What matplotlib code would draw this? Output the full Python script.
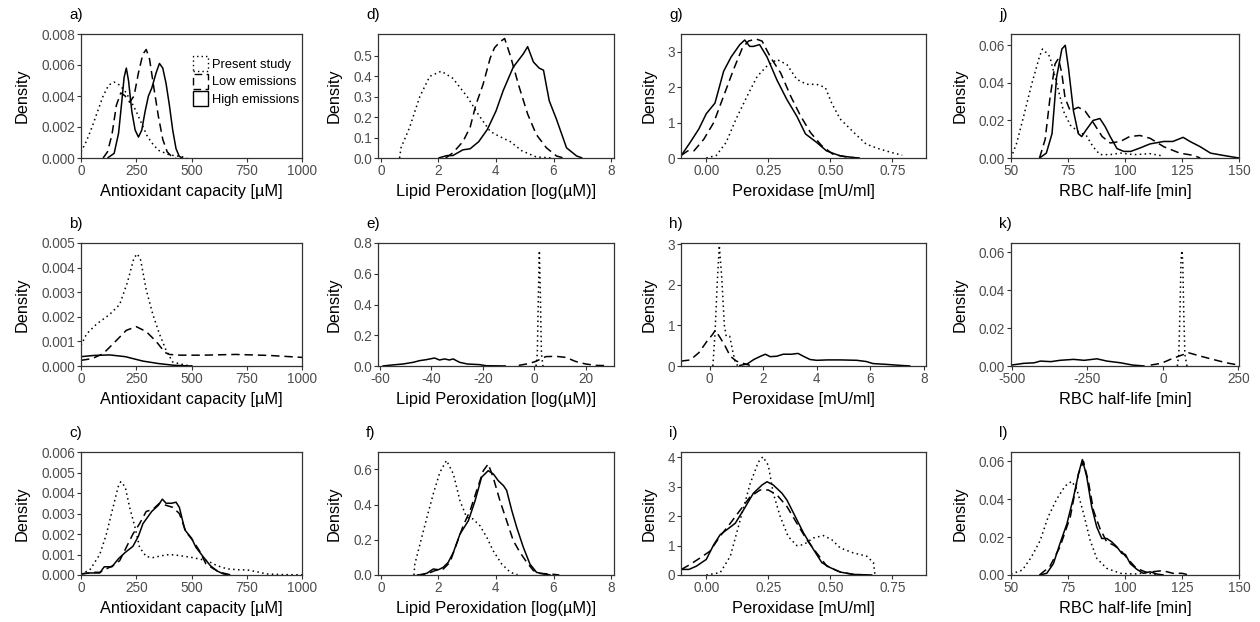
import matplotlib
matplotlib.use("Agg")
import matplotlib.pyplot as plt
from matplotlib.patches import Patch

plt.rcParams.update({
    "font.family": ["Liberation Sans", "DejaVu Sans"],
    "axes.unicode_minus": False,
})

# ---- data (density curves) ----
# a) antioxidant capacity, row 1
a_present_x = [0, 25, 50, 75, 100, 125, 150, 175, 200, 225, 250, 275, 300, 325, 350, 400, 450, 480]
a_present_y = [0.0004, 0.0011, 0.0020, 0.0030, 0.0040, 0.0047, 0.0049, 0.0047, 0.0043, 0.0037, 0.0030,
               0.0022, 0.0014, 0.0009, 0.0005, 0.0002, 0.0001, 0.0]
a_low_x = [100, 120, 140, 160, 180, 200, 220, 240, 260, 280, 295, 310, 330, 350, 370, 390, 410, 430]
a_low_y = [0, 0.0004, 0.0015, 0.0034, 0.0042, 0.0040, 0.0036, 0.0040, 0.0055, 0.0067, 0.0070, 0.0064,
           0.0045, 0.0027, 0.0012, 0.0004, 0.0001, 0]
a_high_x = [120, 150, 170, 185, 195, 205, 215, 230, 245, 260, 275, 290, 305, 320, 340, 355, 370, 385,
            400, 415, 430, 445, 460]
a_high_y = [0, 0.0003, 0.0016, 0.0037, 0.0052, 0.0058, 0.0050, 0.0030, 0.0018, 0.00135, 0.0018, 0.0030,
            0.0040, 0.0045, 0.0055, 0.0061, 0.0058, 0.0048, 0.0034, 0.0018, 0.0006, 0.0001, 0]

# b) antioxidant capacity, row 2
b_present_x = [0, 25, 70, 130, 175, 210, 240, 255, 270, 295, 325, 355, 385, 415, 475, 510]
b_present_y = [0.00084, 0.0013, 0.0017, 0.0021, 0.0025, 0.0034, 0.0044, 0.00456, 0.0043, 0.0031, 0.0021,
               0.0013, 0.00064, 0.00016, 0.00003, 0]
b_low_x = [0, 50, 100, 145, 205, 250, 295, 340, 380, 400, 450, 550, 700, 850, 1000]
b_low_y = [0.00023, 0.0003, 0.0005, 0.0009, 0.00145, 0.0016, 0.0014, 0.001, 0.00055, 0.00047, 0.00044,
           0.00044, 0.00047, 0.00043, 0.00035]
b_high_x = [0, 60, 130, 200, 280, 350, 420, 500]
b_high_y = [0.00038, 0.00043, 0.00045, 0.00038, 0.0002, 0.0001, 0.00003, 0]

# c) antioxidant capacity, row 3
c_present_x = [0, 40, 85, 115, 145, 168, 180, 200, 220, 245, 265, 295, 325, 370, 400, 445, 505, 570,
               615, 660, 720, 750, 795, 840, 910, 1000]
c_present_y = [0.00005, 0.00025, 0.001, 0.002, 0.0033, 0.0043, 0.00455, 0.0043, 0.0033, 0.0023, 0.00135,
               0.0009, 0.00085, 0.00095, 0.001, 0.00095, 0.00085, 0.0007, 0.00046, 0.0003, 0.00025,
               0.00025, 0.00016, 0.00005, 0.00002, 0.00001]
c_low_x = [0, 55, 85, 115, 145, 175, 205, 235, 265, 295, 325, 355, 385, 415, 445, 475, 505, 535, 565,
           600, 630, 660, 680]
c_low_y = [0.00005, 0.00013, 0.00013, 0.0003, 0.00046, 0.0007, 0.00135, 0.002, 0.0025, 0.0031, 0.0032,
           0.0035, 0.0034, 0.0033, 0.003, 0.0021, 0.0017, 0.0012, 0.00055, 0.0003, 0.00013, 0.00005, 0]
c_high_x = [0, 40, 85, 105, 140, 170, 200, 235, 260, 280, 320, 350, 368, 385, 410, 430, 445, 470, 500,
            520, 555, 585, 615, 645, 675]
c_high_y = [0.00005, 0.0001, 0.0001, 0.0004, 0.0004, 0.0008, 0.0011, 0.0014, 0.0019, 0.0025, 0.0031,
            0.0034, 0.0037, 0.0035, 0.0035, 0.00355, 0.0033, 0.0022, 0.0018, 0.00135, 0.00086, 0.00046,
            0.0002, 0.00005, 0]

# d) lipid peroxidation, row 1
d_present_x = [0.65, 0.7, 1.0, 1.35, 1.7, 2.1, 2.5, 3.0, 3.4, 3.8, 4.1, 4.5, 4.9, 5.4, 6.0]
d_present_y = [0.0, 0.05, 0.15, 0.30, 0.40, 0.425, 0.39, 0.30, 0.21, 0.13, 0.107, 0.08, 0.035, 0.005, 0]
d_low_x = [2.25, 2.5, 2.85, 3.1, 3.3, 3.55, 3.8, 3.95, 4.15, 4.3, 4.5, 4.8, 5.1, 5.4, 5.75, 6.1, 6.35]
d_low_y = [0, 0.025, 0.08, 0.15, 0.26, 0.36, 0.49, 0.54, 0.57, 0.585, 0.50, 0.35, 0.215, 0.115, 0.05,
           0.01, 0]
d_high_x = [2.0, 2.3, 2.5, 2.85, 3.1, 3.4, 3.7, 4.0, 4.25, 4.6, 4.95, 5.1, 5.3, 5.5, 5.65, 5.85, 6.1,
            6.45, 6.8, 7.0]
d_high_y = [0, 0.012, 0.012, 0.04, 0.045, 0.08, 0.14, 0.23, 0.33, 0.445, 0.51, 0.545, 0.47, 0.44, 0.43,
            0.28, 0.19, 0.05, 0.01, 0]

# e) lipid peroxidation, row 2
e_present_x = [0.7, 1.2, 1.6, 2.0, 2.4, 2.8, 3.4]
e_present_y = [0, 0.08, 0.45, 0.75, 0.45, 0.08, 0]
e_low_x = [-6, -3, -0.5, 0.6, 2.5, 4.5, 8.4, 12.3, 16, 20, 24, 29]
e_low_y = [0.004, 0.013, 0.024, 0.03, 0.045, 0.061, 0.063, 0.056, 0.03, 0.013, 0.004, 0.002]
e_high_x = [-59, -55, -51, -47, -44.5, -42, -38.7, -36.8, -34.8, -33, -31.5, -29, -26, -21.3, -18.7, -11]
e_high_y = [0, 0.007, 0.013, 0.024, 0.035, 0.041, 0.052, 0.039, 0.046, 0.039, 0.046, 0.024, 0.013,
            0.009, 0.002, 0]

# f) lipid peroxidation, row 3
f_present_x = [1.15, 1.18, 1.36, 1.6, 1.82, 2.05, 2.28, 2.52, 2.75, 2.98, 3.2, 3.44, 3.68, 3.9, 4.2,
               4.5, 4.75]
f_present_y = [0, 0.062, 0.176, 0.327, 0.46, 0.583, 0.65, 0.573, 0.42, 0.327, 0.318, 0.28, 0.214,
               0.138, 0.062, 0.015, 0.002]
f_low_x = [1.25, 1.6, 1.88, 2.17, 2.4, 2.63, 2.86, 3.1, 3.33, 3.56, 3.73, 3.9, 4.14, 4.37, 4.6, 4.83,
           5.07, 5.3, 5.53, 5.88, 6.2]
f_low_y = [0, 0.006, 0.025, 0.034, 0.072, 0.176, 0.28, 0.365, 0.48, 0.592, 0.63, 0.555, 0.42, 0.308,
           0.195, 0.129, 0.072, 0.025, 0.009, 0.006, 0]
f_high_x = [1.35, 1.6, 1.82, 2.0, 2.17, 2.34, 2.52, 2.75, 3.04, 3.27, 3.5, 3.73, 3.91, 4.08, 4.26, 4.37,
            4.55, 4.72, 4.95, 5.18, 5.41, 5.65, 5.9]
f_high_y = [0, 0.01, 0.034, 0.03, 0.044, 0.072, 0.129, 0.233, 0.308, 0.42, 0.555, 0.592, 0.573, 0.535,
            0.507, 0.48, 0.365, 0.27, 0.157, 0.062, 0.015, 0.006, 0]

# g) peroxidase, row 1
g_present_x = [0.0, 0.04, 0.08, 0.12, 0.165, 0.205, 0.245, 0.285, 0.325, 0.365, 0.405, 0.445, 0.48,
               0.505, 0.54, 0.595, 0.645, 0.70, 0.755, 0.79]
g_present_y = [0.0, 0.07, 0.44, 1.1, 1.75, 2.3, 2.6, 2.78, 2.64, 2.22, 2.08, 2.08, 1.99, 1.56, 1.1, 0.72,
               0.39, 0.25, 0.14, 0.08]
g_low_x = [-0.10, -0.075, -0.05, -0.01, 0.03, 0.07, 0.11, 0.145, 0.17, 0.20, 0.225, 0.26, 0.30, 0.34,
           0.38, 0.42, 0.465, 0.51, 0.57, 0.62]
g_low_y = [0.08, 0.2, 0.2, 0.53, 1.0, 1.75, 2.5, 3.1, 3.3, 3.36, 3.3, 2.83, 2.4, 1.75, 1.19, 0.72, 0.35,
           0.11, 0.02, 0]
g_high_x = [-0.10, -0.065, -0.03, 0.0, 0.035, 0.07, 0.10, 0.135, 0.155, 0.175, 0.19, 0.215, 0.245,
            0.285, 0.325, 0.365, 0.40, 0.445, 0.485, 0.54, 0.61]
g_high_y = [0.08, 0.44, 0.82, 1.25, 1.55, 2.45, 2.85, 3.2, 3.33, 3.15, 3.15, 3.2, 2.85, 2.2, 1.65, 1.18,
            0.68, 0.44, 0.2, 0.06, 0]

# h) peroxidase, row 2
h_present_x = [0.12, 0.2, 0.28, 0.36, 0.45, 0.55, 0.62, 0.75, 0.85, 0.95, 1.05]
h_present_y = [0, 0.8, 2.0, 2.97, 2.2, 1.0, 0.73, 0.73, 0.4, 0.12, 0]
h_low_x = [-1.07, -0.72, -0.4, -0.1, 0.1, 0.21, 0.4, 0.58, 0.77, 1.0, 1.25, 1.5]
h_low_y = [0.12, 0.15, 0.33, 0.61, 0.77, 0.88, 0.69, 0.49, 0.24, 0.12, 0.065, 0.016]
h_high_x = [1.1, 1.4, 1.65, 1.9, 2.08, 2.26, 2.5, 2.75, 3.05, 3.3, 3.5, 3.75, 4.0, 4.4, 4.9, 5.5, 5.85,
            6.1, 6.6, 7.1, 7.5]
h_high_y = [0.01, 0.05, 0.16, 0.24, 0.29, 0.23, 0.24, 0.29, 0.29, 0.31, 0.24, 0.16, 0.14, 0.15, 0.15,
            0.14, 0.11, 0.06, 0.04, 0.016, 0]

# i) peroxidase, row 3
i_present_x = [0.0, 0.056, 0.097, 0.137, 0.177, 0.21, 0.228, 0.25, 0.27, 0.298, 0.33, 0.365, 0.392,
               0.432, 0.472, 0.506, 0.54, 0.593, 0.647, 0.674, 0.68]
i_present_y = [0, 0.08, 0.64, 1.88, 3.11, 3.84, 4.02, 3.73, 2.78, 1.99, 1.31, 1.0, 1.03, 1.26, 1.34,
               1.2, 0.92, 0.75, 0.64, 0.42, 0.02]
i_low_x = [-0.10, -0.065, -0.025, 0.015, 0.055, 0.097, 0.137, 0.177, 0.217, 0.25, 0.285, 0.325, 0.365,
           0.405, 0.445, 0.486, 0.54, 0.593, 0.65]
i_low_y = [0.19, 0.36, 0.58, 0.81, 1.31, 1.76, 2.21, 2.66, 2.89, 2.89, 2.72, 2.33, 1.76, 1.2, 0.75, 0.3,
           0.1, 0.02, 0]
i_high_x = [-0.10, -0.07, -0.04, 0.0, 0.03, 0.056, 0.083, 0.117, 0.15, 0.19, 0.225, 0.245, 0.27, 0.305,
            0.325, 0.352, 0.392, 0.432, 0.466, 0.5, 0.54, 0.593, 0.67]
i_high_y = [0.19, 0.19, 0.3, 0.53, 1.03, 1.37, 1.54, 1.76, 2.21, 2.78, 3.06, 3.17, 3.06, 2.78, 2.55, 2.1,
            1.43, 0.87, 0.42, 0.25, 0.1, 0.02, 0]

# j) RBC half-life, row 1
j_present_x = [50, 52.5, 55.5, 59, 62.5, 63.8, 65.5, 67, 70, 73, 76, 79.5, 83, 86, 89, 93.5, 98, 104,
               111, 117]
j_present_y = [0, 0.008, 0.022, 0.039, 0.054, 0.058, 0.056, 0.054, 0.04, 0.025, 0.0175, 0.014, 0.012,
               0.006, 0.0018, 0.0018, 0.0026, 0.0018, 0.0023, 0.001]
j_low_x = [62.5, 65, 67, 69.3, 70.8, 72.3, 73.7, 76, 79.5, 82.5, 86, 90, 93.5, 98, 102, 106.5, 111, 117,
           124, 130, 133]
j_low_y = [0, 0.01, 0.031, 0.05, 0.053, 0.045, 0.032, 0.025, 0.027, 0.025, 0.019, 0.0114, 0.008, 0.0088,
           0.0114, 0.012, 0.0105, 0.006, 0.0026, 0.0014, 0]
j_high_x = [62.5, 65.5, 68, 70, 72.3, 73.8, 75.2, 77.4, 79.5, 81, 83, 86, 89, 91.3, 93.5, 96.5, 99.5,
            102.5, 106.5, 111, 117, 121, 125.5, 128.5, 133, 137.5, 143, 150]
j_high_y = [0, 0.0026, 0.013, 0.043, 0.058, 0.06, 0.048, 0.025, 0.013, 0.0114, 0.015, 0.02, 0.021,
            0.0167, 0.0114, 0.005, 0.0035, 0.0035, 0.0053, 0.0075, 0.0088, 0.0088, 0.011, 0.0088, 0.006,
            0.0026, 0.0014, 0]

# k) RBC half-life, row 2
k_present_x = [48, 53, 57, 60, 63, 66, 69, 73, 80]
k_present_y = [0.0, 0.006, 0.03, 0.055, 0.061, 0.055, 0.03, 0.006, 0.0]
k_low_x = [-40, -5, 25, 60, 85, 125, 165, 210, 250]
k_low_y = [0.0005, 0.0014, 0.0035, 0.0056, 0.007, 0.0052, 0.0035, 0.0017, 0.0005]
k_high_x = [-500, -460, -425, -405, -370, -340, -295, -260, -218, -185, -140, -100, -60]
k_high_y = [0.0005, 0.0014, 0.0017, 0.0026, 0.0023, 0.003, 0.0035, 0.003, 0.0038, 0.0026, 0.0017,
            0.0005, 0]

# l) RBC half-life, row 3
l_present_x = [50, 55, 59, 62.7, 66.4, 70, 73.7, 76.6, 78.8, 81.8, 84.7, 87.6, 92, 98, 104, 109.5, 114]
l_present_y = [0.0005, 0.0026, 0.0096, 0.018, 0.031, 0.04, 0.047, 0.0495, 0.0456, 0.0326, 0.0184,
               0.0088, 0.0035, 0.0009, 0.0005, 0.0012, 0]
l_low_x = [62.5, 67, 71.5, 76, 79.6, 81.8, 84, 86.2, 89, 92, 95, 98, 101, 105, 109.5, 116.5, 121, 125, 128]
l_low_y = [0, 0.0044, 0.0149, 0.0307, 0.0535, 0.06, 0.049, 0.034, 0.0246, 0.0175, 0.0158, 0.0132,
           0.0088, 0.0035, 0.0014, 0.0023, 0.0009, 0.0009, 0]
l_high_x = [62.5, 65.7, 68.6, 71.5, 74.5, 77.4, 79.6, 81.3, 83.2, 85.4, 87.6, 89.8, 92, 94.2, 96.4, 98.6,
            100.2, 102.3, 105.2, 108, 111, 114, 117]
l_high_y = [0, 0.0009, 0.006, 0.0167, 0.027, 0.041, 0.0535, 0.061, 0.052, 0.036, 0.0254, 0.0193, 0.0193,
            0.0175, 0.0149, 0.0114, 0.0108, 0.006, 0.003, 0.0009, 0.0017, 0.0005, 0]

SERIES_LABELS = ["Present study", "Low emissions", "High emissions"]

XLABEL_AOX = "Antioxidant capacity [\u00b5M]"
XLABEL_LPO = "Lipid Peroxidation [log(\u00b5M)]"
XLABEL_POX = "Peroxidase [mU/ml]"
XLABEL_RBC = "RBC half-life [min]"

# axis ticks / tick label formats
AOX_XTICKS = [0, 250, 500, 750, 1000]
LPO_XTICKS = [0, 2, 4, 6, 8]
POX_XTICKS = [0.0, 0.25, 0.5, 0.75]
RBC_XTICKS = [50, 75, 100, 125, 150]

PANELS = {
    "a": dict(data=(a_present_x, a_present_y, a_low_x, a_low_y, a_high_x, a_high_y), xlabel=XLABEL_AOX,
              xlim=(0, 1000), ylim=(0, 0.008), xticks=AOX_XTICKS, xfmt="{:.0f}",
              yticks=[0, 0.002, 0.004, 0.006, 0.008], yfmt="{:.3f}"),
    "b": dict(data=(b_present_x, b_present_y, b_low_x, b_low_y, b_high_x, b_high_y), xlabel=XLABEL_AOX,
              xlim=(0, 1000), ylim=(0, 0.005), xticks=AOX_XTICKS, xfmt="{:.0f}",
              yticks=[0, 0.001, 0.002, 0.003, 0.004, 0.005], yfmt="{:.3f}"),
    "c": dict(data=(c_present_x, c_present_y, c_low_x, c_low_y, c_high_x, c_high_y), xlabel=XLABEL_AOX,
              xlim=(0, 1000), ylim=(0, 0.006), xticks=AOX_XTICKS, xfmt="{:.0f}",
              yticks=[0, 0.001, 0.002, 0.003, 0.004, 0.005, 0.006], yfmt="{:.3f}"),
    "d": dict(data=(d_present_x, d_present_y, d_low_x, d_low_y, d_high_x, d_high_y), xlabel=XLABEL_LPO,
              xlim=(-0.1, 8.1), ylim=(0, 0.607), xticks=LPO_XTICKS, xfmt="{:.0f}",
              yticks=[0, 0.1, 0.2, 0.3, 0.4, 0.5], yfmt="{:.1f}"),
    "e": dict(data=(e_present_x, e_present_y, e_low_x, e_low_y, e_high_x, e_high_y), xlabel=XLABEL_LPO,
              xlim=(-60.7, 31), ylim=(0, 0.8), xticks=[-60, -40, -20, 0, 20], xfmt="{:.0f}",
              yticks=[0, 0.2, 0.4, 0.6, 0.8], yfmt="{:.1f}"),
    "f": dict(data=(f_present_x, f_present_y, f_low_x, f_low_y, f_high_x, f_high_y), xlabel=XLABEL_LPO,
              xlim=(-0.1, 8.1), ylim=(0, 0.698), xticks=LPO_XTICKS, xfmt="{:.0f}",
              yticks=[0, 0.2, 0.4, 0.6], yfmt="{:.1f}"),
    "g": dict(data=(g_present_x, g_present_y, g_low_x, g_low_y, g_high_x, g_high_y), xlabel=XLABEL_POX,
              xlim=(-0.102, 0.886), ylim=(0, 3.5), xticks=POX_XTICKS, xfmt="{:.2f}",
              yticks=[0, 1, 2, 3], yfmt="{:.0f}"),
    "h": dict(data=(h_present_x, h_present_y, h_low_x, h_low_y, h_high_x, h_high_y), xlabel=XLABEL_POX,
              xlim=(-1.07, 8.08), ylim=(0, 3.03), xticks=LPO_XTICKS, xfmt="{:.0f}",
              yticks=[0, 1, 2, 3], yfmt="{:.0f}"),
    "i": dict(data=(i_present_x, i_present_y, i_low_x, i_low_y, i_high_x, i_high_y), xlabel=XLABEL_POX,
              xlim=(-0.102, 0.886), ylim=(0, 4.18), xticks=POX_XTICKS, xfmt="{:.2f}",
              yticks=[0, 1, 2, 3, 4], yfmt="{:.0f}"),
    "j": dict(data=(j_present_x, j_present_y, j_low_x, j_low_y, j_high_x, j_high_y), xlabel=XLABEL_RBC,
              xlim=(50, 150), ylim=(0, 0.066), xticks=RBC_XTICKS, xfmt="{:.0f}",
              yticks=[0, 0.02, 0.04, 0.06], yfmt="{:.2f}"),
    "k": dict(data=(k_present_x, k_present_y, k_low_x, k_low_y, k_high_x, k_high_y), xlabel=XLABEL_RBC,
              xlim=(-502, 252), ylim=(0, 0.065), xticks=[-500, -250, 0, 250], xfmt="{:.0f}",
              yticks=[0, 0.02, 0.04, 0.06], yfmt="{:.2f}"),
    "l": dict(data=(l_present_x, l_present_y, l_low_x, l_low_y, l_high_x, l_high_y), xlabel=XLABEL_RBC,
              xlim=(50, 150), ylim=(0, 0.065), xticks=RBC_XTICKS, xfmt="{:.0f}",
              yticks=[0, 0.02, 0.04, 0.06], yfmt="{:.2f}"),
}

# ---- layout (pixels of the 1260x622 canvas) ----
W, H = 1260, 622
COL_LEFT = [81, 378, 681, 1011]
COL_RIGHT = [302, 614, 926, 1239]
ROW_TOP = [34, 243, 452]
ROW_BOTTOM = [158, 366, 575]
GRID = [["a", "d", "g", "j"], ["b", "e", "h", "k"], ["c", "f", "i", "l"]]

LINE_STYLES = [(0, (1, 2.2)), (0, (5.5, 3.2)), "-"]
INK = "#333333"
TICK_GREY = "#4D4D4D"

fig = plt.figure(figsize=(W / 100, H / 100), dpi=100)

for r, row in enumerate(GRID):
    for c, key in enumerate(row):
        p = PANELS[key]
        l, rt = COL_LEFT[c], COL_RIGHT[c]
        t, b = ROW_TOP[r], ROW_BOTTOM[r]
        ax = fig.add_axes([l / W, 1 - b / H, (rt - l) / W, (b - t) / H])

        d = p["data"]
        for s in range(3):
            ax.plot(d[2 * s], d[2 * s + 1], color="black", lw=1.1, ls=LINE_STYLES[s],
                    solid_capstyle="butt", dash_capstyle="butt", label=SERIES_LABELS[s], clip_on=True)

        ax.set_xlim(*p["xlim"])
        ax.set_ylim(*p["ylim"])
        ax.set_xticks(p["xticks"])
        ax.set_xticklabels([p["xfmt"].format(v) for v in p["xticks"]])
        ax.set_yticks(p["yticks"])
        ax.set_yticklabels([p["yfmt"].format(v) for v in p["yticks"]])

        ax.tick_params(direction="out", length=2.8, width=0.8, color=INK, labelsize=9.8,
                       labelcolor=TICK_GREY, pad=1.5)
        for sp in ax.spines.values():
            sp.set_color(INK)
            sp.set_linewidth(0.9)

        ax.set_xlabel(p["xlabel"], fontsize=11.8, labelpad=4)
        ax.set_ylabel("Density", fontsize=11.8, labelpad=8)

        fig.text((l - 12) / W, 1 - (t - 19) / H, key + ")", fontsize=11, ha="left", va="center")

        if key == "a":
            handles = [Patch(facecolor="none", edgecolor="black", linewidth=1.0, linestyle=LINE_STYLES[s],
                             label=SERIES_LABELS[s]) for s in range(3)]
            ax.legend(handles=handles, loc="upper left", bbox_to_anchor=(193 / W, 1 - 56 / H),
                      bbox_transform=fig.transFigure, frameon=False, fontsize=9.3, borderpad=0,
                      borderaxespad=0, handlelength=1.15, handleheight=1.45, labelspacing=0.17,
                      handletextpad=0.35)

fig.savefig("out.png", dpi=100)
